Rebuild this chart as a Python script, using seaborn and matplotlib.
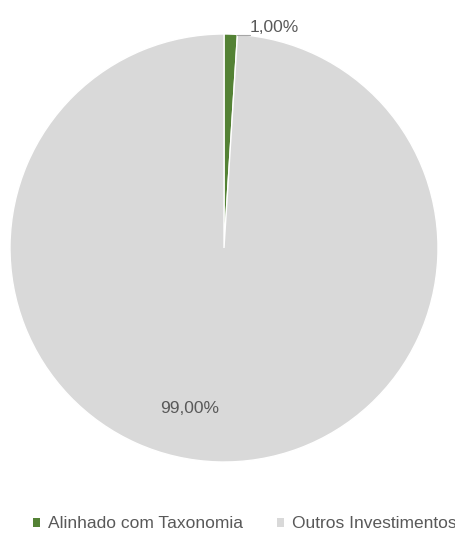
import matplotlib
matplotlib.use("Agg")
import matplotlib.pyplot as plt
import seaborn as sns
from matplotlib.patches import Patch

categories = ["Alinhado com Taxonomia", "Outros Investimentos"]
values = [1.00, 99.00]
labels = ["1,00%", "99,00%"]
colors = ["#548235", "#d9d9d9"]

sns.set_theme(style="white")
plt.rcParams['font.family'] = ['Liberation Sans', 'DejaVu Sans']

fig = plt.figure(figsize=(4.56, 5.34), dpi=100)
W, H = 456, 534
cx, cy, r = 224, 248, 214
ax = fig.add_axes([(cx - r) / W, (H - cy - r) / H, 2 * r / W, 2 * r / H])

wedges, _ = ax.pie(values, colors=colors, startangle=90, counterclock=False,
                   wedgeprops=dict(edgecolor="white", linewidth=1.0))
ax.set_xlim(-1, 1)
ax.set_ylim(-1, 1)
ax.set_aspect("equal")
ax.axis("off")

txtc = "#595959"
fs = 12.5
# 1,00% label with leader line
ax.plot([0.06, 0.12], [0.995, 0.995], color="#a6a6a6", lw=0.8, clip_on=False)
ax.text(0.12, 1.03, labels[0], fontsize=fs, color=txtc, ha="left", va="center")
# 99,00% label
ax.text(-0.16, -0.75, labels[1], fontsize=fs, color=txtc, ha="center", va="center")

handles = [Patch(facecolor=c, edgecolor="none") for c in colors]
fig.legend(handles, categories, loc="center", bbox_to_anchor=(0.537, 1 - 524 / H),
           ncol=2, frameon=False, fontsize=fs, handlelength=0.4, handleheight=0.4,
           handletextpad=0.45, columnspacing=1.95, labelcolor=txtc)

fig.savefig("out.png", dpi=100)
